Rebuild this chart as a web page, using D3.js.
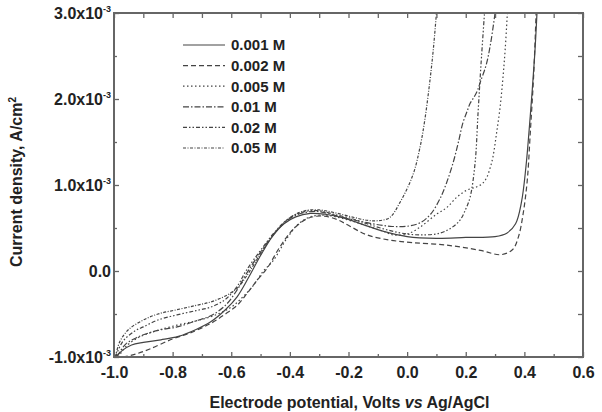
<!DOCTYPE html>
<html>
<head>
<meta charset="utf-8">
<script src="https://cdn.jsdelivr.net/npm/d3@7"></script>
<style>
  body { margin: 0; background: #fff; }
  text { font-family: "Liberation Sans", Arial, sans-serif; font-weight: bold; fill: #222; }
</style>
</head>
<body>
<div id="chart"></div>
<script>
// concentrations in the legend
const labels = ["0.001 M", "0.002 M", "0.005 M", "0.01 M", "0.02 M", "0.05 M"];

// [potential V, current density in 1e-3 A/cm2]
const c0001 = [[-0.995,-1.0],[-0.97,-0.92],[-0.94,-0.86],[-0.9,-0.83],[-0.84,-0.80],[-0.78,-0.76],[-0.72,-0.68],
  [-0.67,-0.59],[-0.62,-0.45],[-0.58,-0.30],[-0.54,-0.07],[-0.50,0.18],[-0.46,0.40],[-0.42,0.55],[-0.38,0.63],
  [-0.33,0.67],[-0.28,0.66],[-0.22,0.62],[-0.15,0.54],[-0.08,0.46],[0.0,0.40],[0.1,0.38],[0.2,0.39],[0.3,0.40],
  [0.34,0.44],[0.37,0.55],[0.39,0.8],[0.405,1.2],[0.42,1.8],[0.435,2.5],[0.443,3.0]];
const c0002 = [[-0.97,-1.0],[-0.93,-0.97],[-0.88,-0.91],[-0.8,-0.79],[-0.74,-0.72],[-0.67,-0.61],[-0.62,-0.50],
  [-0.58,-0.40],[-0.546,-0.26],[-0.51,-0.10],[-0.478,0.03],[-0.434,0.28],[-0.39,0.48],[-0.34,0.61],[-0.29,0.64],
  [-0.24,0.60],[-0.195,0.52],[-0.137,0.42],[-0.06,0.36],[0.02,0.33],[0.136,0.30],[0.25,0.24],[0.32,0.19],
  [0.36,0.25],[0.38,0.4],[0.396,0.67],[0.41,1.06],[0.42,1.6],[0.432,2.3],[0.44,3.0]];
const c0005 = [[-0.985,-1.0],[-0.96,-0.88],[-0.92,-0.78],[-0.86,-0.70],[-0.785,-0.63],[-0.72,-0.58],[-0.66,-0.52],
  [-0.6,-0.42],[-0.56,-0.30],[-0.525,-0.17],[-0.49,0.0],[-0.457,0.12],[-0.41,0.38],[-0.37,0.55],[-0.33,0.63],
  [-0.28,0.65],[-0.22,0.61],[-0.15,0.54],[-0.08,0.46],[-0.048,0.42],[0.0,0.43],[0.044,0.51],[0.1,0.66],
  [0.136,0.74],[0.17,0.86],[0.204,0.94],[0.238,0.98],[0.258,1.02],[0.272,1.09],[0.285,1.22],[0.293,1.33],
  [0.305,1.6],[0.317,1.9],[0.327,2.25],[0.335,2.6],[0.342,3.0]];
const c001 = [[-0.99,-1.0],[-0.96,-0.85],[-0.92,-0.77],[-0.85,-0.69],[-0.785,-0.65],[-0.72,-0.58],[-0.67,-0.52],
  [-0.62,-0.40],[-0.58,-0.22],[-0.55,-0.04],[-0.5,0.22],[-0.45,0.45],[-0.4,0.61],[-0.35,0.68],[-0.3,0.69],
  [-0.25,0.65],[-0.19,0.60],[-0.12,0.55],[-0.058,0.52],[0.0,0.52],[0.044,0.56],[0.08,0.66],[0.112,0.84],
  [0.135,1.03],[0.157,1.26],[0.175,1.5],[0.19,1.72],[0.205,1.86],[0.215,1.95],[0.228,2.02],[0.24,2.1],
  [0.25,2.2],[0.27,2.4],[0.285,2.65],[0.30,3.0]];
const c002 = [[-0.995,-1.0],[-0.97,-0.82],[-0.93,-0.70],[-0.9,-0.65],[-0.85,-0.57],[-0.785,-0.51],[-0.72,-0.46],
  [-0.67,-0.42],[-0.62,-0.33],[-0.58,-0.18],[-0.55,0.0],[-0.5,0.24],[-0.45,0.46],[-0.4,0.62],[-0.35,0.69],
  [-0.3,0.70],[-0.25,0.66],[-0.19,0.61],[-0.137,0.55],[-0.07,0.48],[0.0,0.43],[0.06,0.42],[0.112,0.44],
  [0.15,0.50],[0.18,0.59],[0.2,0.72],[0.215,0.86],[0.232,1.26],[0.242,1.84],[0.252,2.4],[0.264,3.0]];
const c005 = [[-0.995,-1.0],[-0.98,-0.82],[-0.95,-0.68],[-0.9,-0.57],[-0.85,-0.50],[-0.785,-0.45],[-0.72,-0.40],
  [-0.67,-0.36],[-0.62,-0.29],[-0.58,-0.20],[-0.55,-0.07],[-0.5,0.2],[-0.45,0.45],[-0.4,0.62],[-0.35,0.70],
  [-0.3,0.71],[-0.25,0.68],[-0.19,0.63],[-0.137,0.59],[-0.1,0.585],[-0.06,0.62],[-0.024,0.8],[0.02,1.12],
  [0.044,1.44],[0.06,1.75],[0.078,2.22],[0.09,2.6],[0.1,3.0]];

const series = [c0001, c0002, c0005, c001, c002, c005];
const dashes = ["none", "5,3", "1.5,2.5", "6,2,1.5,2", "4,2,1.5,2,1.5,2", "3,1.5,1,1.5"];

const xMajor = [-1.0, -0.8, -0.6, -0.4, -0.2, 0.0, 0.2, 0.4, 0.6];
const xMinor = [-0.9, -0.7, -0.5, -0.3, -0.1, 0.1, 0.3, 0.5];
const yMajor = [-1, 0, 1, 2, 3];
const yMinor = [-0.5, 0.5, 1.5, 2.5];

const W = 602, H = 412;
const pLeft = 114, pRight = 583, pTop = 13, pBottom = 357;

const svg = d3.select("#chart").append("svg")
  .attr("width", W).attr("height", H);

const x = d3.scaleLinear().domain([-1.0, 0.6]).range([pLeft, pRight]);
const y = d3.scaleLinear().domain([-1, 3]).range([pBottom, pTop]);

svg.append("clipPath").attr("id", "clip")
  .append("rect").attr("x", pLeft).attr("y", pTop)
  .attr("width", pRight - pLeft).attr("height", pBottom - pTop);

const line = d3.line()
  .x(d => x(d[0])).y(d => y(d[1]))
  .curve(d3.curveCatmullRom.alpha(0.5));

svg.append("g").attr("clip-path", "url(#clip)")
  .selectAll("path")
  .data(series)
  .enter()
  .append("path")
  .attr("d", line)
  .attr("fill", "none")
  .attr("stroke", "#444")
  .attr("stroke-width", 1.2)
  .attr("stroke-dasharray", (d, i) => dashes[i]);

// axes, ticks pointing inward on all sides
const axisStyle = g => {
  g.select(".domain").remove();
  g.selectAll(".tick line").attr("stroke", "#666").attr("stroke-width", 1.3);
};

svg.append("g").attr("transform", `translate(0,${pBottom})`)
  .call(d3.axisBottom(x).tickValues(xMajor).tickSize(-5).tickPadding(10)
    .tickFormat(d => d.toFixed(1)))
  .call(axisStyle)
  .selectAll("text").attr("font-size", 16).attr("font-family", null);
svg.append("g").attr("transform", `translate(0,${pBottom})`)
  .call(d3.axisBottom(x).tickValues(xMinor).tickSize(-3).tickFormat(""))
  .call(axisStyle);
svg.append("g").attr("transform", `translate(0,${pTop})`)
  .call(d3.axisTop(x).tickValues(xMajor.concat(xMinor)).tickSize(-5).tickFormat(""))
  .call(axisStyle);

const yAxis = svg.append("g").attr("transform", `translate(${pLeft},0)`)
  .call(d3.axisLeft(y).tickValues(yMajor).tickSize(-5).tickPadding(4).tickFormat(""))
  .call(axisStyle);
svg.append("g").attr("transform", `translate(${pLeft},0)`)
  .call(d3.axisLeft(y).tickValues(yMinor).tickSize(-3).tickFormat(""))
  .call(axisStyle);
svg.append("g").attr("transform", `translate(${pRight},0)`)
  .call(d3.axisRight(y).tickValues(yMajor.concat(yMinor)).tickSize(-5).tickFormat(""))
  .call(axisStyle);

// y tick labels like 1.0x10^-3
yAxis.selectAll(".tick text").each(function (d) {
  const t = d3.select(this)
    .attr("font-size", 16).attr("font-family", null)
    .attr("x", -3).attr("dy", "0.36em");
  if (d === 0) {
    t.text("0.0");
  } else {
    t.append("tspan").text(d.toFixed(1) + "x10");
    t.append("tspan").attr("font-size", 9).attr("dy", "-0.8em").text("-3");
  }
});

svg.append("rect")
  .attr("x", pLeft).attr("y", pTop)
  .attr("width", pRight - pLeft).attr("height", pBottom - pTop)
  .attr("fill", "none").attr("stroke", "#666").attr("stroke-width", 2);

// axis titles
const xt = svg.append("text")
  .attr("x", (pLeft + pRight) / 2 + 1).attr("y", 408)
  .attr("text-anchor", "middle").attr("font-size", 16);
xt.append("tspan").text("Electrode potential, Volts ");
xt.append("tspan").attr("font-style", "italic").text("vs");
xt.append("tspan").text(" Ag/AgCl");

const yt = svg.append("text")
  .attr("transform", `translate(22,${(pTop + pBottom) / 2 - 3}) rotate(-90)`)
  .attr("text-anchor", "middle").attr("font-size", 16);
yt.append("tspan").text("Current density, A/cm");
yt.append("tspan").attr("font-size", 10).attr("dy", "-0.6em").text("2");

// legend
const legend = svg.append("g").selectAll("g")
  .data(labels)
  .enter()
  .append("g")
  .attr("transform", (d, i) => `translate(183,${45 + i * 20.6})`);
legend.append("line")
  .attr("x1", 0).attr("x2", 42)
  .attr("stroke", "#444").attr("stroke-width", 1.2)
  .attr("stroke-dasharray", (d, i) => dashes[i]);
legend.append("text")
  .attr("x", 48).attr("dy", "0.36em")
  .attr("font-size", 15)
  .text(d => d);
</script>
</body>
</html>
